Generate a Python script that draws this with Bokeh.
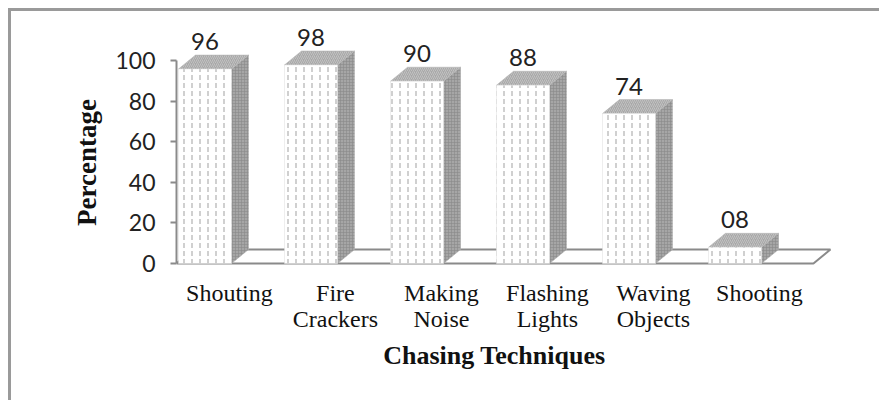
import numpy as np
from bokeh.plotting import figure
from bokeh.layouts import column
from bokeh.models import ColumnDataSource, FixedTicker, Range1d
from bokeh.core.properties import value
from bokeh.embed import file_html
from bokeh.resources import INLINE

# ---- data ----
categories = ["Shouting", "Fire Crackers", "Making Noise", "Flashing Lights", "Waving Objects", "Shooting"]
values = [96, 98, 90, 88, 74, 8]
value_labels = ["96", "98", "90", "88", "74", "08"]
y_ticks = [0, 20, 40, 60, 80, 100]
x_title = "Chasing Techniques"
y_title = "Percentage"

# ---- layout constants (canvas pixels) ----
W = 871
H_TOP, H_BOT = 299, 93
FRAME_L, FRAME_T = 165, 3
PX_X = 106.0          # pixels per category
PX_Y = 2.026          # pixels per percent
ZERO_ROW = 252.0      # canvas row of y=0 in the top figure
CAT0_COL = 193.5      # canvas column of first category centre

x_range = Range1d((FRAME_L - CAT0_COL) / PX_X, (W - CAT0_COL) / PX_X)
y_top = Range1d(-(H_TOP - ZERO_ROW) / PX_Y, (ZERO_ROW - FRAME_T) / PX_Y)
y_bot = Range1d(-(H_TOP + H_BOT - ZERO_ROW) / PX_Y, -(H_TOP - ZERO_ROW) / PX_Y)

BW = 0.5              # bar width (category units)
DX = 17 / PX_X        # depth offset x
DY = 14 / PX_Y        # depth offset y

idx = np.arange(len(categories), dtype=float)
vals = np.array(values, dtype=float)

BORDER = "3px solid #9a9a9a"

src = ColumnDataSource(dict(x=idx, top=vals, lab=value_labels,
                            ly=vals + 13.5,
                            l1=[c.split(" ", 1)[0] for c in categories],
                            l2=[(c.split(" ", 1) + [""])[1] for c in categories],
                            cx=idx + 0.23))

p = figure(width=W, height=H_TOP, output_backend="svg", toolbar_location=None,
           x_range=x_range, y_range=y_top, x_axis_location=None,
           min_border_left=FRAME_L, min_border_top=FRAME_T,
           min_border_right=0, min_border_bottom=0)
p.styles = {"border-top": BORDER, "border-left": BORDER}
p.grid.visible = False
p.outline_line_color = None
p.background_fill_color = "white"
p.border_fill_color = "white"

# floor
floor_right = idx[-1] + 0.74
fx0 = x_range.start
p.patch([fx0, floor_right, floor_right + DX, fx0 + DX],
        [0, 0, DY, DY], fill_color="white", line_color="#8a8a8a", line_width=2)

# side faces
side_xs = [[i + BW / 2, i + BW / 2 + DX, i + BW / 2 + DX, i + BW / 2] for i in idx]
side_ys = [[0, DY, v + DY, v] for v in vals]
p.patches(side_xs, side_ys, fill_color="#a6a6a6", line_color="#b0b0b0", line_width=0.5,
          hatch_pattern="+", hatch_color="#8a8a8a", hatch_scale=3, hatch_weight=0.6)

# top faces
top_xs = [[i - BW / 2, i + BW / 2, i + BW / 2 + DX, i - BW / 2 + DX] for i in idx]
top_ys = [[v, v, v + DY, v + DY] for v in vals]
p.patches(top_xs, top_ys, fill_color="#a8a8a8", line_color="#b8b8b8", line_width=0.5,
          hatch_pattern="/", hatch_color="#c8c8c8", hatch_scale=4, hatch_weight=0.8)

# front faces
p.vbar(x="x", top="top", bottom=0, width=BW, source=src, fill_color="white",
       line_color="#dddddd", line_width=0.5,
       hatch_pattern=":", hatch_color="#b0b0b0", hatch_scale=8, hatch_weight=1.2)

# value labels
p.text(x="x", y="ly", text="lab", source=src, text_font=value("Lato"),
       text_font_size="24px", text_color="#222222", text_align="center",
       text_baseline="middle")

# category labels, first line
p.text(x="cx", y=-29 / PX_Y, text="l1", source=src, text_font=value("Liberation Serif"),
       text_font_size="24px", text_color="#111111", text_align="center",
       text_baseline="middle")

# y axis
ax = p.yaxis[0]
ax.ticker = FixedTicker(ticks=y_ticks)
ax.bounds = (0, 100)
ax.axis_line_color = "#8a8a8a"
ax.axis_line_width = 2
ax.major_tick_line_color = "#8a8a8a"
ax.major_tick_line_width = 2
ax.major_tick_out = 6
ax.major_tick_in = 0
ax.minor_tick_line_color = None
ax.major_label_standoff = 15
ax.major_label_text_font = "Lato"
ax.major_label_text_font_size = "23px"
ax.major_label_text_color = "#222222"
ax.axis_label = y_title
ax.axis_label_standoff = 10
ax.axis_label_text_font = "Liberation Serif"
ax.axis_label_text_font_style = "bold"
ax.axis_label_text_font_size = "27px"
ax.axis_label_text_color = "#111111"

# lower strip: second line of category labels and x title
r = figure(width=W, height=H_BOT, output_backend="svg", toolbar_location=None,
           x_range=x_range, y_range=y_bot, x_axis_location=None, y_axis_location=None,
           min_border_left=FRAME_L, min_border_top=0,
           min_border_right=0, min_border_bottom=0)
r.styles = {"border-left": BORDER}
r.grid.visible = False
r.outline_line_color = None
r.background_fill_color = "white"
r.border_fill_color = "white"

r.text(x="cx", y=-58 / PX_Y, text="l2", source=src, text_font=value("Liberation Serif"),
       text_font_size="24px", text_color="#111111", text_align="center",
       text_baseline="middle")
r.text(x=[idx.mean() + 0.23], y=[-95 / PX_Y], text=[x_title],
       text_font=value("Liberation Serif"), text_font_style="bold",
       text_font_size="26px", text_color="#111111", text_align="center",
       text_baseline="middle")

layout = column(p, r)
layout.styles = {"margin-left": "8px", "margin-top": "8px"}

open("out.html", "w").write(file_html(layout, INLINE))
